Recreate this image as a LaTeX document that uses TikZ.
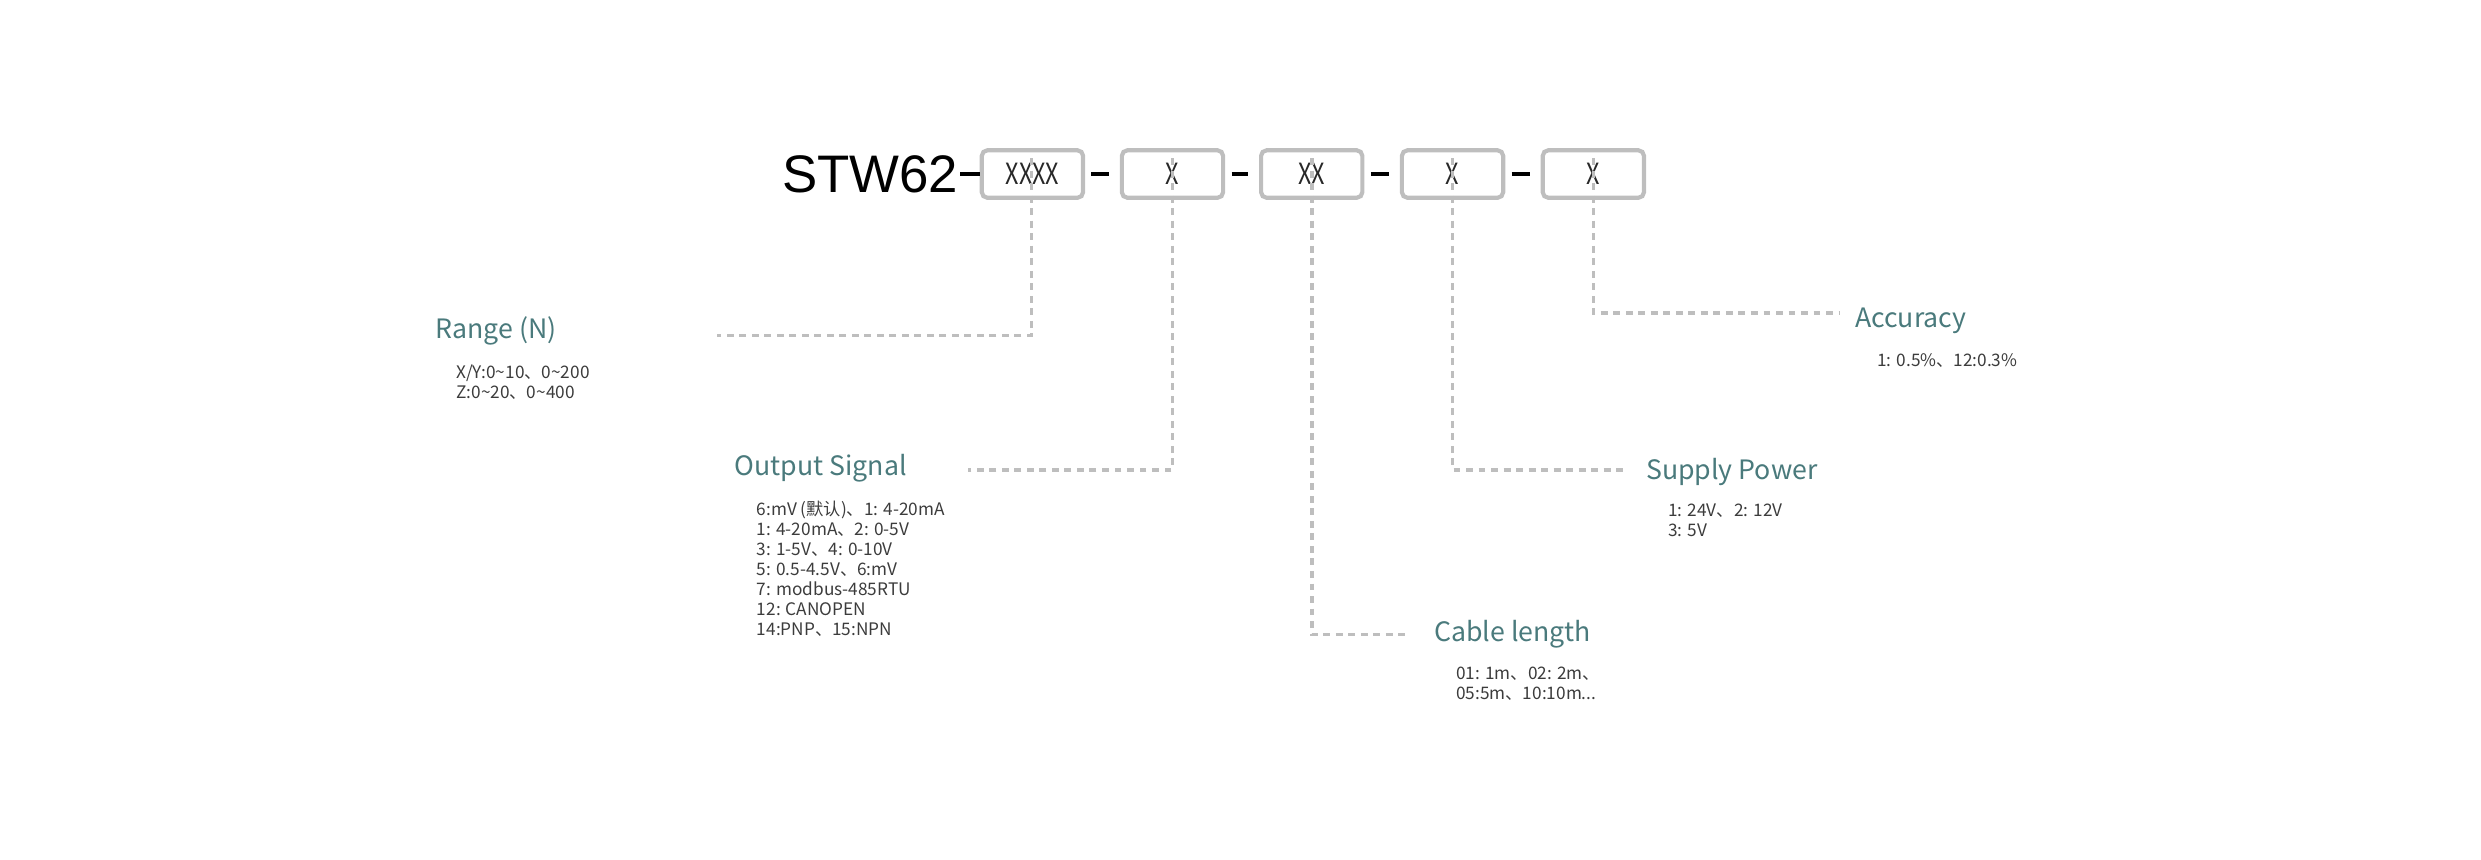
\documentclass[tikz,border=0pt]{standalone}
\usepackage{fontspec}
\setmainfont{Noto Sans CJK SC}
\newfontfamily\arialf{Liberation Sans}
\begin{document}
\begin{tikzpicture}[x=0.02cm,y=-0.02cm,
  lab/.style={anchor=west,text=teal!60!black!70!gray,font=\fontsize{9.6}{11}\selectfont,inner sep=0},
  lab/.style={anchor=west,text={rgb,255:red,74;green,122;blue,124},font=\fontsize{9.6}{11}\selectfont,inner sep=0},
  val/.style={anchor=north west,align=left,text={rgb,255:red,60;green,60;blue,60},font=\fontsize{6.2}{7.2}\selectfont,inner sep=0},
  box/.style={draw={rgb,255:red,190;green,190;blue,190},line width=1.5pt,rounded corners=2pt,minimum width=64*0.02cm,minimum height=30*0.02cm,inner sep=0,font=\fontsize{10.5}{12}\selectfont\addfontfeatures{FakeStretch=0.8},text={rgb,255:red,40;green,40;blue,40}},
  dsh/.style={draw={rgb,255:red,190;green,190;blue,190},line width=1.3pt,dash pattern=on 2.5pt off 2pt},
  bar/.style={line width=1.7pt,black}]
\useasboundingbox (0,0) rectangle (1568,543);
\node[anchor=east,inner sep=0,font=\arialf\fontsize{19}{22}\selectfont] (stw) at (606,110) {STW62};
\node[box] (b1) at (652.5,110) {XXXX};
\node[box] (b2) at (741,110) {X};
\node[box] (b3) at (829,110) {XX};
\node[box] (b4) at (918,110) {X};
\node[box] (b5) at (1007,110) {X};
\draw[bar] (stw.east) ++(1,0) coordinate (s0) -- (b1.west);
\draw[bar] (b1.east) ++(4,0) -- ([xshift=-4]b2.west);
\draw[bar] (b2.east) ++(4,0) -- ([xshift=-4]b3.west);
\draw[bar] (b3.east) ++(4,0) -- ([xshift=-4]b4.west);
\draw[bar] (b4.east) ++(4,0) -- ([xshift=-4]b5.west);
% labels
\node[lab] (range) at (275,209) {Range (N)};
\node[val] (rangev) at (288,230) {X/Y:0\textasciitilde10、0\textasciitilde200\\Z:0\textasciitilde20、0\textasciitilde400};
\node[lab] (out) at (464,296) {Output Signal};
\node[val] (outv) at (478,316) {6:mV (默认)、1: 4-20mA\\1: 4-20mA、2: 0-5V\\3: 1-5V、4: 0-10V\\5: 0.5-4.5V、6:mV\\7: modbus-485RTU\\12: CANOPEN\\14:PNP、15:NPN};
\node[lab] (cab) at (906,401) {Cable length};
\node[val] (cabv) at (920,421) {01: 1m、02: 2m、\\05:5m、10:10m...};
\node[lab] (sup) at (1040,298) {Supply Power};
\node[val] (supv) at (1054,318) {1: 24V、2: 12V\\3: 5V};
\node[lab] (acc) at (1172,203) {Accuracy};
\node[val] (accv) at (1186,223) {1: 0.5\%、12:0.3\%};
% connectors
\coordinate (c1) at (652,212); \coordinate (e1) at (453,212);
\coordinate (c2) at (741,297); \coordinate (e2) at (612,297);
\coordinate (c3) at (829,401); \coordinate (e3) at (888,401);
\coordinate (c4) at (918,297); \coordinate (e4) at (1028,297);
\coordinate (c5) at (1007,198); \coordinate (e5) at (1162,198);
\draw[dsh] ([yshift=15]b1.south -| c1) -- (c1) -- (e1);
\draw[dsh] ([yshift=15]b2.south -| c2) -- (c2) -- (e2);
\draw[dsh] ([yshift=15]b3.south -| c3) -- (c3) -- (e3);
\draw[dsh] ([yshift=15]b4.south -| c4) -- (c4) -- (e4);
\draw[dsh] ([yshift=15]b5.south -| c5) -- (c5) -- (e5);
\end{tikzpicture}
\end{document}
